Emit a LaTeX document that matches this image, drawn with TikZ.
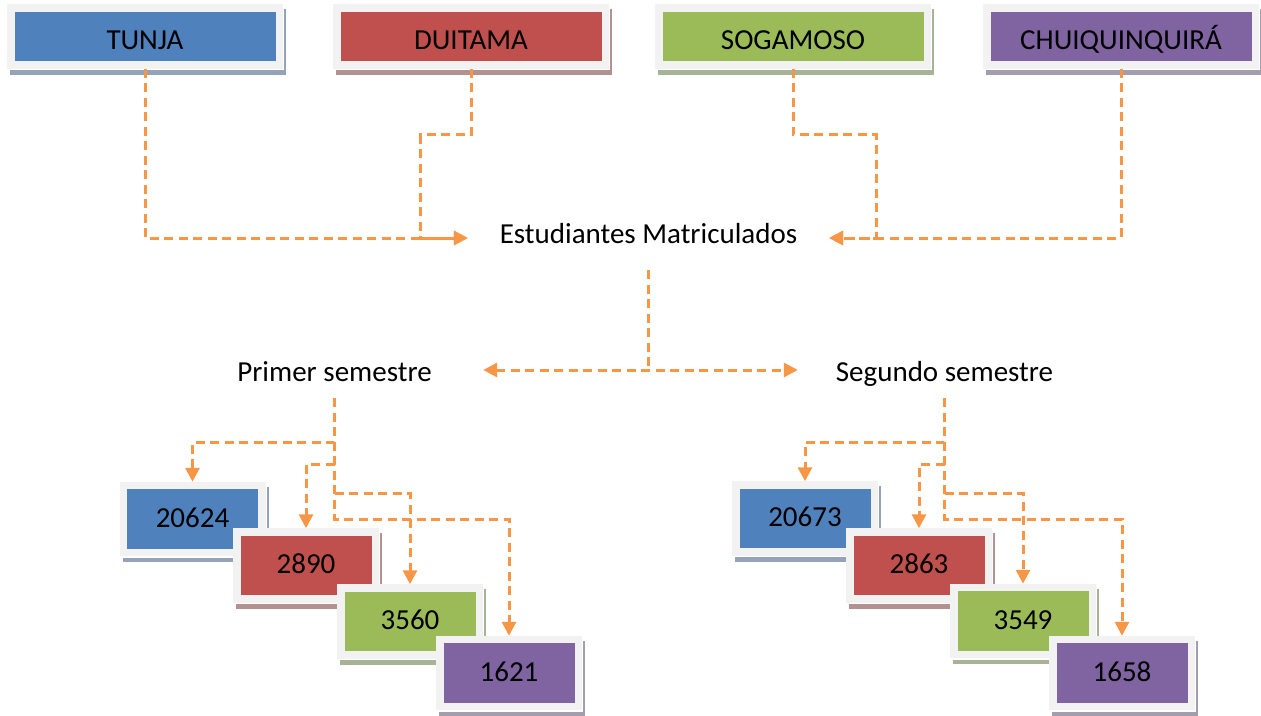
\documentclass[tikz,border=0pt]{standalone}
\usepackage{fontspec}
\setmainfont{Carlito}
\usetikzlibrary{arrows.meta,backgrounds}
\definecolor{cblue}{HTML}{4F81BD}
\definecolor{cred}{HTML}{C0504D}
\definecolor{cgreen}{HTML}{9BBB59}
\definecolor{cpurple}{HTML}{8064A2}
\definecolor{sblue}{HTML}{94A3B8}
\definecolor{sred}{HTML}{B39191}
\definecolor{sgreen}{HTML}{A7B396}
\definecolor{spurple}{HTML}{A39DAE}
\definecolor{framegray}{HTML}{F2F2F2}
\definecolor{conncol}{HTML}{F79646}
\tikzset{
  basebox/.style={draw=framegray, line width=7.5pt, inner sep=0pt, text=black},
  topbox/.style={basebox, minimum width=268.5pt, minimum height=57pt, text height=25pt, text depth=0pt},
  numbox/.style={basebox, minimum width=138.5pt, minimum height=67pt, text height=16pt, text depth=0pt},
  tipstyle/.style={},
  conn/.style={draw=conncol, line width=3pt, dash pattern=on 9pt off 5.5pt, -{Triangle[length=14pt,width=14pt]}},
  connboth/.style={draw=conncol, line width=3pt, dash pattern=on 9pt off 5.5pt, {Triangle[length=14pt,width=14pt]}-{Triangle[length=14pt,width=14pt]}},
  connplain/.style={draw=conncol, line width=3pt, dash pattern=on 9pt off 5.5pt},
  label/.style={inner sep=0pt, text=black},
}
\newcommand\myshadow[2]{%
  \begin{scope}[on background layer]
    \fill[#2] ([shift={(3,5)}]#1.north west) rectangle ([shift={(3,6)}]#1.south east);
    \fill[white] (#1.north west) rectangle ([shift={(1,1.5)}]#1.south east);
  \end{scope}}
\begin{document}
\begin{tikzpicture}[x=1pt, y=-1pt, font=\fontsize{29}{35}\selectfont]
\useasboundingbox (0,0) rectangle (1261,715);

% top boxes
\node[topbox, fill=cblue] (tunja) at (145,36.5) {TUNJA};
\myshadow{tunja}{sblue}
\node[topbox, fill=cred] (duitama) at (471,36.5) {DUITAMA};
\myshadow{duitama}{sred}
\node[topbox, fill=cgreen] (sogamoso) at (793,36.5) {SOGAMOSO};
\myshadow{sogamoso}{sgreen}
\node[topbox, fill=cpurple] (chuiq) at (1121,36.5) {CHUIQUINQUIRÁ};
\myshadow{chuiq}{spurple}

% labels
\node[label, minimum width=361pt, text height=20pt, text depth=10pt] (est) at (648.5,238) {Estudiantes Matriculados};
\node[label, minimum width=297pt, text height=39pt, text depth=17pt] (primer) at (334.5,370) {Primer semestre};
\node[label, minimum width=293pt, text height=39pt, text depth=17pt] (segundo) at (944.5,370) {Segundo semestre};

% left number boxes
\node[numbox, fill=cblue] (p1) at (192.5,519) {20624};
\myshadow{p1}{sblue}
\node[numbox, fill=cred] (p2) at (306,565.5) {2890};
\myshadow{p2}{sred}
\node[numbox, fill=cgreen] (p3) at (410,621.5) {3560};
\myshadow{p3}{sgreen}
\node[numbox, fill=cpurple] (p4) at (509,673) {1621};
\myshadow{p4}{spurple}

% right number boxes
\node[numbox, fill=cblue] (r1) at (805,518.5) {20673};
\myshadow{r1}{sblue}
\node[numbox, fill=cred] (r2) at (919,565.5) {2863};
\myshadow{r2}{sred}
\node[numbox, fill=cgreen] (r3) at (1023,621) {3549};
\myshadow{r3}{sgreen}
\node[numbox, fill=cpurple] (r4) at (1122,673) {1658};
\myshadow{r4}{spurple}

% connectors top
\draw[conn] (tunja.south) |- (est.west);
\draw[conn] (duitama.south) -- ++(0,66) -| ([xshift=-47pt]est.west) -- (est.west);
\draw[conn] (sogamoso.south) -- ++(0,66) -| ([xshift=47pt]est.east) -- (est.east);
\draw[conn] (chuiq.south) |- (est.east);

% to semesters
\draw[connplain] ([yshift=-17pt]est.south) -- (est.south |- primer.east);
\draw[connboth] (primer.east) -- (segundo.west);

% left branches
\draw[conn] (primer.south) -- ++(0,121) -| (p4.north);
\draw[conn] (primer.south) -- ++(0,44) -| (p1.north);
\draw[conn] ([yshift=-66pt]primer.south) -| (p2.north);
\draw[conn] ([yshift=-95pt]primer.south) -| (p3.north);

% right branches
\draw[conn] (segundo.south) -- ++(0,121) -| (r4.north);
\draw[conn] (segundo.south) -- ++(0,44) -| (r1.north);
\draw[conn] ([yshift=-66pt]segundo.south) -| (r2.north);
\draw[conn] ([yshift=-95pt]segundo.south) -| (r3.north);
\end{tikzpicture}
\end{document}
